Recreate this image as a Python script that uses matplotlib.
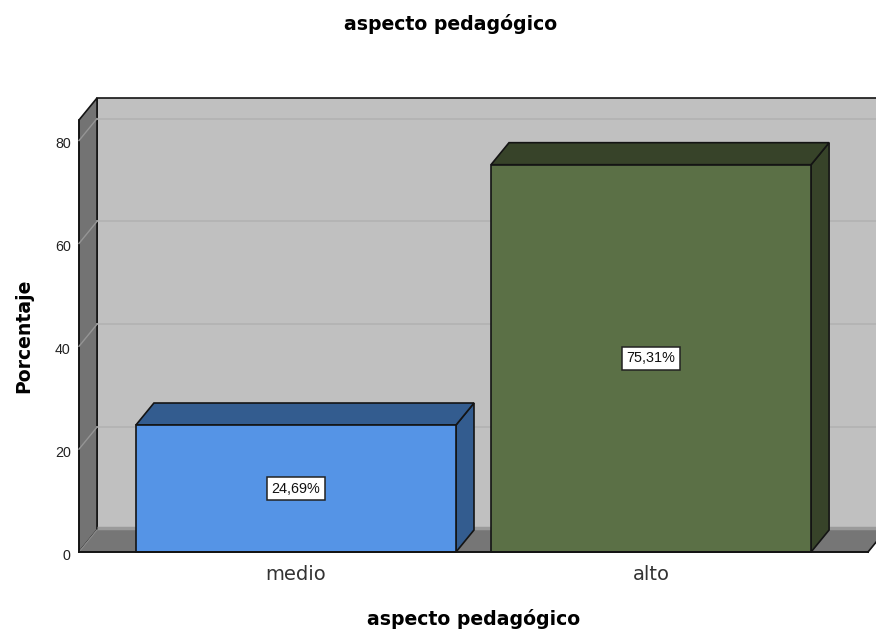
import matplotlib
matplotlib.use("Agg")
import matplotlib.pyplot as plt
from matplotlib.patches import Polygon
from matplotlib.transforms import ScaledTranslation

categories = ["medio", "alto"]
percentages = [24.69, 75.31]
value_labels = ["24,69%", "75,31%"]
y_ticks = [0, 20, 40, 60, 80]

FRONT = ["#5594e6", "#5b7046"]
SIDE = ["#335c8f", "#374329"]

plt.rcParams["font.family"] = ["Liberation Sans", "DejaVu Sans"]
WIDE = ["DejaVu Sans"]

W, H = 876, 633
fig = plt.figure(figsize=(W / 100, H / 100), dpi=100)
# axes box is the front face of the 3d frame
ax = fig.add_axes([79 / W, 1 - 552 / H, (868 - 79) / W, (552 - 120) / H])
ax.set_xlim(-0.611, 1.611)
ax.set_ylim(0, 84)
ax.patch.set_visible(False)
for s in ax.spines.values():
    s.set_visible(False)

dx = 18 / 355
dy = 22 / 5.14
x0, x1 = ax.get_xlim()
y1 = ax.get_ylim()[1]


def poly(pts, color, z, edge="#141414", lw=1.2):
    ax.add_patch(Polygon(pts, closed=True, facecolor=color, edgecolor=edge,
                         linewidth=lw, zorder=z, clip_on=False, joinstyle="miter"))


# back wall, left wall, floor
poly([(x0 + dx, dy), (x1 + dx, dy), (x1 + dx, y1 + dy), (x0 + dx, y1 + dy)], "#c0c0c0", 1)
poly([(x0, 0), (x0 + dx, dy), (x0 + dx, y1 + dy), (x0, y1)], "#737373", 2)
poly([(x0, 0), (x1, 0), (x1 + dx, dy), (x0 + dx, dy)], "#767676", 2, edge="#767676", lw=0.5)
ax.plot([x0, x0 + dx], [0, dy], color="#8c8c8c", lw=0.8, zorder=3, clip_on=False)
ax.plot([x0, x0], [0, y1], color="#141414", lw=1.2, zorder=3, clip_on=False)
ax.plot([x1, x1 + dx], [0, dy], color="#141414", lw=1.2, zorder=3, clip_on=False)
# thin shadow strip where the wall meets the floor
ax.plot([x0 + dx, x1 + dx], [dy + 0.35, dy + 0.35], color="#9a9a9a", lw=2.5, zorder=2.5,
        clip_on=False, solid_capstyle="butt")

for v in y_ticks[1:]:
    ax.plot([x0 + dx, x1 + dx], [v + dy, v + dy], color="#b2b2b2", lw=1.2, zorder=3, clip_on=False)
    ax.plot([x0, x0 + dx], [v, v + dy], color="#959595", lw=1, zorder=3, clip_on=False)

bar_w = 320 / 355
for i, val in enumerate(percentages):
    l, r = i - bar_w / 2, i + bar_w / 2
    poly([(r, 0), (r + dx, dy), (r + dx, val + dy), (r, val)], SIDE[i], 5)
    poly([(l, val), (r, val), (r + dx, val + dy), (l + dx, val + dy)], SIDE[i], 5)
    poly([(l, 0), (r, 0), (r, val), (l, val)], FRONT[i], 6)
    ax.text(i, val / 2, value_labels[i], ha="center", va="center", fontsize=10.4, color="#111111",
            zorder=8, bbox=dict(boxstyle="square,pad=0.3", fc="white", ec="#222222", lw=1.1))

ax.plot([x0, x1], [0, 0], color="#141414", lw=1.4, zorder=7, clip_on=False)

ax.set_xticks(range(len(categories)))
ax.set_xticklabels(categories, fontsize=14, color="#333333", family=WIDE)
ax.set_yticks(y_ticks)
ax.set_yticklabels([str(v) for v in y_ticks], fontsize=10.3, color="#222222")
ax.tick_params(axis="x", length=0, pad=9.5)
ax.tick_params(axis="y", length=0, pad=6)
# y labels sit a little under their tick in the original
shift = ScaledTranslation(0, -2 / 100, fig.dpi_scale_trans)
for lab in ax.get_yticklabels():
    lab.set_transform(lab.get_transform() + shift)

fig.text(451 / W, 1 - 24 / H, "aspecto pedagógico", ha="center", va="center", fontsize=13.6, fontweight="bold", family=WIDE)
fig.text(473.5 / W, 1 - 619 / H, "aspecto pedagógico", ha="center", va="center", fontsize=13.6, fontweight="bold", family=WIDE)
fig.text(24 / W, 1 - 336 / H, "Porcentaje", ha="center", va="center", rotation=90, fontsize=13.6, fontweight="bold", family=WIDE)

fig.savefig("out.png", dpi=100)
